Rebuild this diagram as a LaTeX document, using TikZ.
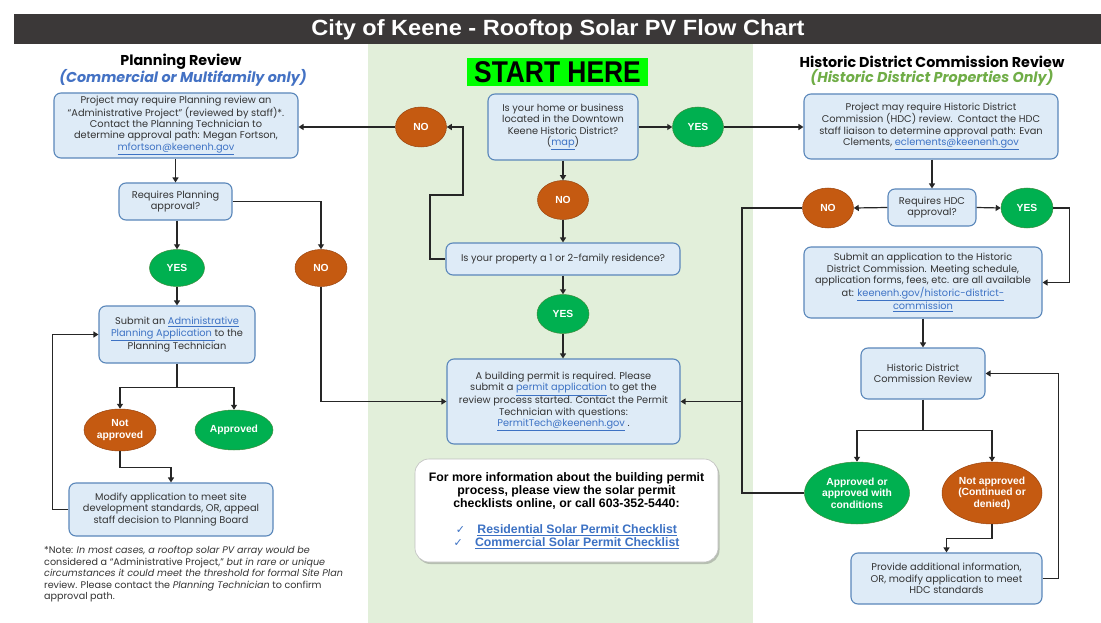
\documentclass[tikz,border=0pt]{standalone}
\usepackage{fontspec}
\usetikzlibrary{shapes.geometric,arrows.meta,shadows}
\setmainfont{Poppins}
\newfontfamily\arialf{Liberation Sans}
\newfontfamily\titlef[FakeStretch=1.07]{Liberation Sans}
\newfontfamily\startf[FakeStretch=0.88]{Liberation Sans}
\newfontfamily\checkf{DejaVu Sans}
\definecolor{titlebar}{HTML}{3B3838}
\definecolor{panel}{HTML}{E2EFDA}
\definecolor{boxfill}{HTML}{DEEBF7}
\definecolor{boxline}{HTML}{5A87BA}
\definecolor{boxtext}{HTML}{333333}
\definecolor{orng}{HTML}{C55A11}
\definecolor{orngline}{HTML}{9A4510}
\definecolor{grn}{HTML}{00B050}
\definecolor{grnline}{HTML}{3C8C3C}
\definecolor{lnkc}{HTML}{3D72C4}
\definecolor{hdrblue}{HTML}{4472C4}
\definecolor{hdrgreen}{HTML}{70AD47}
\definecolor{startgreen}{HTML}{00FF00}
\definecolor{conn}{HTML}{262626}
\newcommand\mylink[1]{\textcolor{lnkc}{\underline{#1}}}
\newcommand\bxfont{\fontsize{9.8}{11.3}\selectfont}
\newcommand\elfont{\arialf\bfseries\fontsize{10.3}{11.4}\selectfont}
\newcommand\infofont{\arialf\bfseries\fontsize{12.3}{13}\selectfont}
\newcommand\hdrfont{\bfseries\fontsize{14.3}{16}\selectfont}
\newcommand\ttlfont{\titlef\bfseries\fontsize{22}{24}\selectfont}
\newcommand\startfont{\startf\bfseries\fontsize{30}{30}\selectfont}
\newcommand\notefont{\fontsize{9.6}{11.5}\selectfont}
\begin{document}
\begin{tikzpicture}[x=1pt,y=-1pt,
 wh/.style 2 args={minimum width=#1pt, minimum height=#2pt},
 bx/.style={draw=boxline, fill=boxfill, line width=1.1pt, rounded corners=7pt, align=center, inner sep=0pt, text=boxtext, font=\bxfont},
 ov/.style={ellipse, inner sep=0pt, align=center, text=white, font=\elfont, line width=0.5pt},
 ono/.style={ov, fill=orng, draw=orngline},
 oyes/.style={ov, fill=grn, draw=grnline},
 arr/.style={draw=conn, line width=1.2pt, -{Triangle[length=5pt,width=6pt]}},
 ln/.style={draw=conn, line width=1.2pt}]
\useasboundingbox (0,0) rectangle (1101,623);
\fill[white] (0,0) rectangle (1101,623);
\fill[panel] (368,44) rectangle (753,623);
\fill[titlebar] (14,14) rectangle (1101,44);
\node[font=\ttlfont, text=white, inner sep=0pt] (TITLE) at (558,29.5) {City of Keene - Rooftop Solar PV Flow Chart};

% headers
\node[font=\hdrfont, text=black, inner sep=0pt] (PLH) at (181,62) {Planning Review};
\node[font=\hdrfont\itshape, text=hdrblue, inner sep=0pt] (PLS) at (183,78) {(Commercial or Multifamily only)};
\node[font=\hdrfont, text=black, inner sep=0pt] (HDH) at (932,62) {Historic District Commission Review};
\node[font=\hdrfont\itshape, text=hdrgreen, inner sep=0pt] (HDS) at (932,78) {(Historic District Properties Only)};
\node[fill=startgreen, wh={181}{28}, inner sep=0pt, font=\startfont] (START) at (557.5,72) {START HERE};

% left column
\node[bx, wh={244}{65}] (P1) at (176,125.5) {Project may require Planning review an\\“Administrative Project” (reviewed by staff)*.\\Contact the Planning Technician to\\determine approval path: Megan Fortson,\\\mylink{mfortson@keenenh.gov}};
\node[bx, wh={113}{37}] (P2) at (175.5,201.5) {Requires Planning\\approval?};
\node[oyes, wh={55}{37}] (YL) at (177,268) {YES};
\node[ono, wh={52}{37}] (NL) at (321,268) {NO};
\node[bx, wh={156}{57}] (P3) at (177,334.5) {Submit an \mylink{Administrative}\\\mylink{Planning Application\ }to the\\Planning Technician};
\node[ono, wh={72}{42}] (NAL) at (120,430) {Not\\approved};
\node[oyes, wh={78}{40}] (AL) at (234,430) {Approved};
\node[bx, wh={204}{53}] (MOD) at (171,509.5) {Modify application to meet site\\development standards, OR, appeal\\staff decision to Planning Board};
\node[anchor=north west, align=left, inner sep=0pt, font=\notefont, text=boxtext] (NOTE) at (44,546) {*Note: \textit{In most cases, a rooftop solar PV array would be}\\considered a “Administrative Project,” \textit{but in rare or unique}\\\textit{circumstances it could meet the threshold for formal Site Plan}\\review. Please contact the \textit{Planning Technician} to confirm\\approval path.};

% center column
\node[bx, wh={150}{66}] (C1) at (563,127) {Is your home or business\\located in the Downtown\\Keene Historic District?\\(\mylink{map})};
\node[ono, wh={51}{40}] (NT) at (421,127) {NO};
\node[oyes, wh={51}{40}] (YT) at (698,127) {YES};
\node[ono, wh={51}{39}] (NM) at (563,200) {NO};
\node[bx, wh={234}{32}] (Q2) at (563,259) {Is your property a 1 or 2-family residence?};
\node[oyes, wh={52}{39}] (YM) at (563,314) {YES};
\node[bx, wh={233}{85}] (BP) at (563.5,401.5) {A building permit is required. Please\\submit a \mylink{permit application} to get the\\review process started. Contact the Permit\\Technician with questions:\\\mylink{PermitTech@keenenh.gov} .};
\node[draw=black!25, fill=white, rounded corners=14pt, line width=0.6pt,
 drop shadow={shadow xshift=1.5pt, shadow yshift=-2pt, opacity=0.35, fill=black!60},
 wh={303}{103}, inner sep=0pt, align=center, font=\infofont] (INFO) at (566.5,510.5)
 {For more information about the building permit\\process, please view the solar permit\\checklists online, or call 603-352-5440:\\[13pt]
 {\checkf\fontsize{11}{13}\selectfont\textcolor{lnkc}{✓}}\quad\mylink{Residential Solar Permit Checklist}\\
 {\checkf\fontsize{11}{13}\selectfont\textcolor{lnkc}{✓}}\quad\mylink{Commercial Solar Permit Checklist}};

% right column
\node[bx, wh={254}{65}] (H1) at (931,126.5) {Project may require Historic District\\Commission (HDC) review.\ \ Contact the HDC\\staff liaison to determine approval path: Evan\\Clements, \mylink{eclements@keenenh.gov}};
\node[bx, wh={88}{37}] (H2) at (932,207.5) {Requires HDC\\approval?};
\node[ono, wh={51}{40}] (NR) at (828,208) {NO};
\node[oyes, wh={52}{40}] (YR) at (1027,208) {YES};
\node[bx, wh={238}{71}] (H3) at (923,282.5) {Submit an application to the Historic\\District Commission. Meeting schedule,\\application forms, fees, etc. are all available\\at: \mylink{keenenh.gov/historic-district-}\\\mylink{commission}};
\node[bx, wh={124}{51}] (H4) at (923,373.5) {Historic District\\Commission Review};
\node[oyes, wh={105}{62}] (AR) at (857,493) {Approved or\\approved with\\conditions};
\node[ono, wh={100}{62}] (NAR) at (992,493) {Not approved\\(Continued or\\denied)};
\node[bx, wh={191}{51}] (H5) at (946.5,578.5) {Provide additional information,\\OR, modify application to meet\\HDC standards};

% connectors left
\draw[arr] (P1.south -| P2.north) -- (P2.north);
\draw[arr] (YL.north |- P2.south) -- (YL.north);
\draw[arr] (P2.east) -| (NL.north);
\draw[arr] (YL.south) -- (P3.north);
\draw[ln] (P3.south) -- ++(0,24) coordinate (sL);
\draw[arr] (sL) -| (NAL.north);
\draw[arr] (sL) -| (AL.north);
\draw[arr] (NAL.south) -- ++(0,16) -| (MOD.north);
\draw[arr] (MOD.west) -- ++(-16,0) |- (P3.west);
\draw[arr] (NL.south) |- (BP.west);
% connectors center
\draw[arr] (C1.south) -- (NM.north);
\draw[arr] (NM.south) -- (Q2.north);
\draw[arr] (Q2.south) -- (YM.north);
\draw[arr] (YM.south) -- (YM.south |- BP.north);
\coordinate (qa) at (430,195);
\coordinate (qb) at (463,195);
\draw[arr] (Q2.west) -| (qa) -- (qb) |- (NT.east);
\draw[arr] (NT.west) -- (NT.west -| P1.east);
\draw[arr] (C1.east) -- (YT.west);
\draw[arr] (YT.east) -- (YT.east -| H1.west);
% connectors right
\draw[arr] (H1.south -| H2.north) -- (H2.north);
\draw[arr] (H2.west) -- (NR.east);
\draw[arr] (H2.east) -- (YR.west);
\draw[arr] (YR.east) -- ++(16,0) |- (H3.east);
\draw[arr] (H3.south -| H4.north) -- (H4.north);
\draw[ln] (H4.south) -- ++(0,31) coordinate (sR);
\draw[arr] (sR) -| (AR.north);
\draw[arr] (sR) -| (NAR.north);
\draw[arr] (NAR.south) -- ++(0,14) -| (H5.north);
\draw[arr] (H5.east) -- ++(16,0) |- (H4.east);
\coordinate (rv) at (742,208);
\draw[arr] (NR.west) -- (rv) |- (BP.east);
\draw[ln] (AR.west) -| (rv |- BP.east);
\end{tikzpicture}
\end{document}
